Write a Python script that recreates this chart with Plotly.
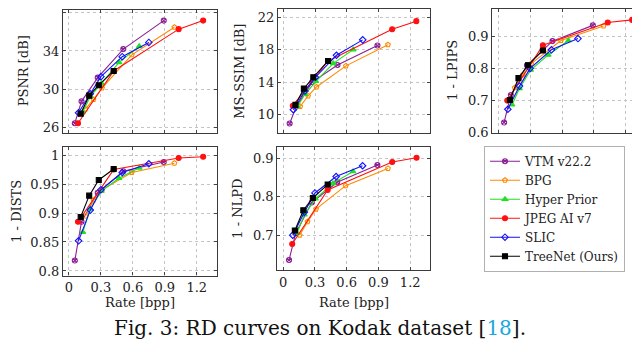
import plotly.graph_objects as go

W, H = 640, 342

methods = ["VTM v22.2", "BPG", "Hyper Prior", "JPEG AI v7", "SLIC", "TreeNet (Ours)"]
colors = ["#8a1f96", "#ff8a00", "#1fe01f", "#ff1010", "#1010ff", "#000000"]
symbols = ["circle-x-open", "pentagon-open", "triangle-up", "circle", "diamond-open", "square"]

# Rates [bpp]
vtm_rate = [0.055, 0.118, 0.27, 0.51, 0.89]
bpg_rate = [0.155, 0.23, 0.31, 0.59, 0.99]
hyper_rate = [0.13, 0.20, 0.305, 0.47, 0.66]
jpegai_rate = [0.085, 0.42, 1.03, 1.26]
slic_rate = [0.09, 0.20, 0.30, 0.50, 0.75]
treenet_rate = [0.11, 0.19, 0.28, 0.42]
rates = [vtm_rate, bpg_rate, hyper_rate, jpegai_rate, slic_rate, treenet_rate]

# PSNR [dB]
psnr_vtm = [26.4, 28.7, 31.2, 34.2, 37.2]
psnr_bpg = [27.9, 28.9, 30.1, 33.6, 36.5]
psnr_hyper = [27.6, 29.2, 30.6, 32.8, 34.5]
psnr_jpegai = [26.4, 31.9, 36.3, 37.2]
psnr_slic = [27.5, 29.5, 31.3, 33.4, 34.9]
psnr_treenet = [27.4, 29.3, 30.4, 31.9]

# MS-SSIM [dB]
msssim_vtm = [8.9, 11.0, 14.0, 16.1, 18.5]
msssim_bpg = [11.0, 12.3, 13.4, 16.0, 18.6]
msssim_hyper = [11.0, 12.5, 14.1, 16.3, 18.0]
msssim_jpegai = [11.1, 16.6, 20.5, 21.5]
msssim_slic = [10.6, 12.9, 14.6, 17.3, 19.2]
msssim_treenet = [11.2, 13.2, 14.6, 16.6]

# 1 - LPIPS
lpips_vtm = [0.632, 0.717, 0.81, 0.885, 0.934]
lpips_bpg = [0.74, 0.78, 0.815, 0.887, 0.932]
lpips_hyper = [0.687, 0.738, 0.795, 0.842, 0.887]
lpips_jpegai = [0.70, 0.872, 0.943, 0.951]
lpips_slic = [0.673, 0.745, 0.80, 0.858, 0.893]
lpips_treenet = [0.702, 0.77, 0.81, 0.856]

# 1 - DISTS
dists_vtm = [0.818, 0.885, 0.935, 0.972, 0.988]
dists_bpg = [0.895, 0.922, 0.94, 0.97, 0.986]
dists_hyper = [0.867, 0.907, 0.938, 0.96, 0.978]
dists_jpegai = [0.885, 0.975, 0.995, 0.997]
dists_slic = [0.852, 0.905, 0.94, 0.97, 0.985]
dists_treenet = [0.893, 0.93, 0.957, 0.976]

# 1 - NLPD
nlpd_vtm = [0.635, 0.705, 0.785, 0.838, 0.883]
nlpd_bpg = [0.70, 0.735, 0.768, 0.829, 0.874]
nlpd_hyper = [0.705, 0.753, 0.795, 0.835, 0.866]
nlpd_jpegai = [0.677, 0.818, 0.891, 0.902]
nlpd_slic = [0.70, 0.76, 0.81, 0.853, 0.881]
nlpd_treenet = [0.712, 0.765, 0.797, 0.832]

metrics = [
    [psnr_vtm, psnr_bpg, psnr_hyper, psnr_jpegai, psnr_slic, psnr_treenet],
    [msssim_vtm, msssim_bpg, msssim_hyper, msssim_jpegai, msssim_slic, msssim_treenet],
    [lpips_vtm, lpips_bpg, lpips_hyper, lpips_jpegai, lpips_slic, lpips_treenet],
    [dists_vtm, dists_bpg, dists_hyper, dists_jpegai, dists_slic, dists_treenet],
    [nlpd_vtm, nlpd_bpg, nlpd_hyper, nlpd_jpegai, nlpd_slic, nlpd_treenet],
]
ylabels = ["PSNR [dB]", "MS-SSIM [dB]", "1 - LPIPS", "1 - DISTS", "1 - NLPD"]
ytickvals = [[26, 30, 34, 38], [10, 14, 18, 22], [0.6, 0.7, 0.8, 0.9],
             [0.8, 0.85, 0.9, 0.95, 1.0], [0.7, 0.8, 0.9]]
yticktext = [["26", "30", "34", "38"], ["10", "14", "18", "22"], ["0.6", "0.7", "0.8", "0.9"],
             ["0.8", "0.85", "0.9", "0.95", "1"], ["0.7", "0.8", "0.9"]]
yranges = [[25.4, 38.35], [7.7, 23.0], [0.6, 0.985], [0.792, 1.014], [0.609, 0.929]]
xtickvals = [0, 0.3, 0.6, 0.9, 1.2]
xticktext = ["0", "0.3", "0.6", "0.9", "1.2"]
xrange_ = [-0.056, 1.39]
xlabel = "Rate [bpp]"

# panel frames in pixels: (left, right, top, bottom)
frames = [(55, 209, 1.7, 127.7), (270, 422, 1.0, 128.3), (484.3, 638, 1.0, 127.7),
          (55, 209, 142.3, 274), (269.3, 422.3, 142.7, 268.3)]

FONT = "DejaVu Serif"
fig = go.Figure()

for p, data in enumerate(metrics):
    xa = "x" if p == 0 else f"x{p+1}"
    ya = "y" if p == 0 else f"y{p+1}"
    for i, name in enumerate(methods):
        fig.add_trace(go.Scatter(
            x=rates[i], y=data[i], mode="lines+markers", name=name,
            xaxis=xa, yaxis=ya, showlegend=(p == 0), legendgroup=name,
            line=dict(color=colors[i], width=1.1),
            marker=dict(symbol=symbols[i], size=5, color=colors[i],
                        line=dict(color=colors[i], width=1.1)),
        ))

annotations = []
for p in range(5):
    l, r, t, b = frames[p]
    xk = "xaxis" if p == 0 else f"xaxis{p+1}"
    yk = "yaxis" if p == 0 else f"yaxis{p+1}"
    bottom_row = p >= 3
    fig.layout[xk] = dict(
        domain=[l / W, r / W], range=xrange_, anchor="y" if p == 0 else f"y{p+1}",
        tickvals=xtickvals, ticktext=xticktext, showticklabels=bottom_row,
        ticks="inside", ticklen=3, tickcolor="#444",
        showgrid=True, gridcolor="#c4c4c4", griddash="dot", gridwidth=1,
        showline=True, mirror="ticks", linecolor="#3a3a3a", linewidth=1.2,
        zeroline=False, tickfont=dict(family=FONT, size=13, color="#222"),
    )
    fig.layout[yk] = dict(
        domain=[1 - b / H, 1 - t / H], range=yranges[p], anchor="x" if p == 0 else f"x{p+1}",
        tickvals=ytickvals[p], ticktext=yticktext[p],
        ticks="inside", ticklen=3, tickcolor="#444",
        showgrid=True, gridcolor="#c4c4c4", griddash="dot", gridwidth=1,
        showline=True, mirror="ticks", linecolor="#3a3a3a", linewidth=1.2,
        zeroline=False, tickfont=dict(family=FONT, size=13, color="#222"),
    )

ylabel_x = [15, 230.7, 445, 8.5, 230]
for p in range(5):
    l, r, t, b = frames[p]
    annotations.append(dict(
        text=ylabels[p], xref="paper", yref="paper",
        x=ylabel_x[p] / W, y=1 - (t + b) / 2 / H, textangle=-90,
        showarrow=False, xanchor="center", yanchor="middle",
        font=dict(family=FONT, size=13, color="#222"),
    ))
for p in (3, 4):
    l, r, t, b = frames[p]
    annotations.append(dict(
        text=xlabel, xref="paper", yref="paper",
        x=(l + r) / 2 / W, y=1 - 301.7 / H, showarrow=False,
        xanchor="center", yanchor="middle",
        font=dict(family=FONT, size=13, color="#222"),
    ))

annotations.append(dict(
    text='Fig. 3: RD curves on Kodak dataset [<span style="color:#19a8e0">18</span>].',
    xref="paper", yref="paper", x=312 / W, y=0,
    xanchor="center", yanchor="bottom", showarrow=False,
    font=dict(family=FONT, size=20, color="#111"),
))

fig.update_layout(
    width=W, height=H, margin=dict(l=0, r=0, t=0, b=0),
    paper_bgcolor="white", plot_bgcolor="white",
    annotations=annotations,
    legend=dict(
        x=476 / W, y=1 - 141 / H, xanchor="left", yanchor="top",
        bordercolor="#b0b0b0", borderwidth=1, bgcolor="white",
        font=dict(family=FONT, size=12, color="#222"),
        itemwidth=30, tracegroupgap=0,
    ),
)

fig.write_html("out.html")
